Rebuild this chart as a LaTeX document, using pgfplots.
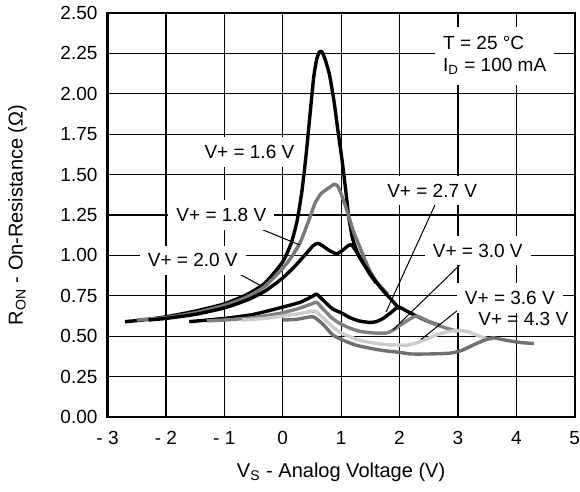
\documentclass[border=0pt]{standalone}
\usepackage{fontspec}
\setmainfont{Liberation Sans}
\usepackage{pgfplots}
\pgfplotsset{compat=1.18}
\usetikzlibrary{calc}

\definecolor{gA}{gray}{0.47}
\definecolor{gB}{gray}{0.50}
\definecolor{gC}{gray}{0.80}
\definecolor{gD}{gray}{0.44}

\tikzset{ann/.style={fill=white, inner xsep=4pt, inner ysep=4pt, font=\fontsize{9.5}{11}\selectfont}}

\begin{document}
\begin{tikzpicture}
\begin{axis}[
    scale only axis, width=233.6pt, height=202pt,
    xmin=-3, xmax=5, ymin=0, ymax=2.5,
    xtick={-3,-2,-1,0,1,2,3,4,5},
    xticklabels={- 3,- 2,- 1,0,1,2,3,4,5},
    ytick={0,0.25,0.5,0.75,1,1.25,1.5,1.75,2,2.25,2.5},
    yticklabels={0.00,0.25,0.50,0.75,1.00,1.25,1.50,1.75,2.00,2.25,2.50},
    grid=major, major grid style={black, line width=0.6pt},
    major tick length=0pt,
    axis line style={line width=1.1pt},
    tick label style={font=\fontsize{9.5}{11}\selectfont},
    yticklabel style={xshift=-1.5pt},
    xticklabel style={yshift=-3.5pt},
    xlabel={V\textsubscript{S} - Analog Voltage (V)},
    ylabel={R\textsubscript{ON} - On-Resistance (Ω)},
    label style={font=\fontsize{10}{12}\selectfont},
    xlabel style={at={(axis description cs:0.5,-0.136)}, anchor=center},
    ylabel style={at={(axis description cs:-0.193,0.5)}, anchor=center},
    every axis plot/.append style={line width=1.7pt, line join=round, smooth, tension=0.35},
]
% V+ = 1.6 V
\addplot[black] coordinates {
 (-2.7,0.59) (-2.4,0.60) (-2.0,0.62) (-1.5,0.655) (-1.0,0.70) (-0.6,0.76) (-0.3,0.83)
 (0.0,0.96) (0.15,1.08) (0.25,1.22) (0.33,1.40) (0.40,1.62) (0.47,1.88) (0.53,2.10)
 (0.58,2.21) (0.63,2.26) (0.67,2.26) (0.72,2.22) (0.8,2.12) (0.88,1.95) (0.95,1.76)
 (1.02,1.58) (1.08,1.40) (1.13,1.24) (1.2,1.10) (1.3,1.0) (1.4,0.94) (1.5,0.88) (1.6,0.83)
};
% V+ = 1.8 V
\addplot[gA] coordinates {
 (-2.5,0.60) (-2.0,0.615) (-1.5,0.645) (-1.0,0.69) (-0.6,0.745) (-0.3,0.81) (0.0,0.92)
 (0.15,0.99) (0.3,1.08) (0.45,1.22) (0.55,1.32) (0.65,1.38) (0.72,1.40) (0.8,1.42)
 (0.88,1.44) (0.94,1.43) (1.0,1.38) (1.08,1.30) (1.15,1.22) (1.22,1.14) (1.3,1.07)
 (1.4,0.98) (1.5,0.90) (1.6,0.84) (1.7,0.80) (1.8,0.76)
};
% V+ = 2.0 V
\addplot[black] coordinates {
 (-2.3,0.60) (-2.0,0.61) (-1.5,0.635) (-1.0,0.675) (-0.6,0.725) (-0.3,0.78) (0.0,0.86)
 (0.2,0.93) (0.4,1.01) (0.52,1.06) (0.6,1.075) (0.68,1.06) (0.8,1.03) (0.92,1.01)
 (1.02,1.03) (1.12,1.06) (1.18,1.065) (1.25,1.03) (1.32,0.99) (1.4,0.94) (1.55,0.86)
 (1.7,0.79) (1.85,0.73) (2.0,0.67)
};
% V+ = 2.7 V
\addplot[black] coordinates {
 (-1.6,0.59) (-1.0,0.61) (-0.5,0.635) (0.0,0.68) (0.3,0.71) (0.5,0.745) (0.58,0.76)
 (0.7,0.72) (0.85,0.67) (1.0,0.645) (1.15,0.615) (1.3,0.595) (1.49,0.585) (1.6,0.59)
 (1.72,0.61) (1.85,0.645) (1.95,0.675) (2.0,0.68) (2.1,0.66) (2.29,0.625) (2.5,0.59)
 (2.7,0.565)
};
% V+ = 3.0 V
\addplot[gB] coordinates {
 (-1.3,0.595) (-1.0,0.60) (-0.5,0.615) (0.0,0.645) (0.3,0.675) (0.5,0.70) (0.58,0.71)
 (0.7,0.665) (0.85,0.61) (1.0,0.575) (1.15,0.55) (1.32,0.53) (1.55,0.52) (1.78,0.52)
 (1.9,0.54) (2.0,0.565) (2.15,0.60) (2.29,0.625) (2.45,0.60) (2.6,0.575) (2.8,0.55)
 (3.0,0.53)
};
% V+ = 3.6 V
\addplot[gC] coordinates {
 (-0.7,0.60) (-0.3,0.61) (0.0,0.625) (0.3,0.64) (0.55,0.655) (0.7,0.61) (0.85,0.56)
 (1.0,0.52) (1.2,0.49) (1.38,0.47) (1.7,0.45) (2.0,0.445) (2.15,0.445) (2.3,0.46)
 (2.45,0.48) (2.65,0.51) (2.86,0.53) (3.0,0.535) (3.15,0.53) (3.3,0.51) (3.45,0.49)
 (3.6,0.48)
};
% V+ = 4.3 V
\addplot[gD] coordinates {
 (0.0,0.60) (0.25,0.605) (0.52,0.62) (0.7,0.57) (0.85,0.51) (1.0,0.48) (1.25,0.445)
 (1.5,0.425) (1.75,0.41) (2.0,0.40) (2.2,0.39) (2.5,0.39) (2.86,0.395) (3.05,0.41)
 (3.26,0.445) (3.45,0.475) (3.6,0.49) (3.75,0.48) (3.9,0.47) (4.1,0.46) (4.3,0.455)
};

% leader lines
\draw[line width=0.5pt] (axis cs:-0.42,1.17) -- (axis cs:0.29,1.065);
\draw[line width=0.5pt] (axis cs:-0.82,0.90) -- (axis cs:-0.36,0.81);
\draw[line width=0.5pt] (axis cs:2.63,1.33) -- (axis cs:1.77,0.65);
\draw[line width=0.5pt] (axis cs:3.06,0.95) -- (axis cs:1.89,0.54);
\draw[line width=0.5pt] (axis cs:3.03,0.67) -- (axis cs:2.37,0.48);

% labels
\node[ann] at (axis cs:-0.57,1.64) {V+ = 1.6 V};
\node[ann] at (axis cs:-1.05,1.25) {V+ = 1.8 V};
\node[ann] at (axis cs:-1.54,0.97) {V+ = 2.0 V};
\node[ann] at (axis cs:2.56,1.40) {V+ = 2.7 V};
\node[ann] at (axis cs:3.34,1.03) {V+ = 3.0 V};
\node[ann] at (axis cs:3.89,0.735) {V+ = 3.6 V};
\node[font=\fontsize{9.5}{11}\selectfont, inner sep=1pt] at (axis cs:4.12,0.605) {V+ = 4.3 V};
\node[ann, align=left, inner ysep=5pt] at (axis cs:3.63,2.235) {T = 25 °C\\I\textsubscript{D} = 100 mA};
\end{axis}
\pgfresetboundingbox
\path ($(current axis.south west)+(-53.75pt,-37pt)$) rectangle ($(current axis.north east)+(2.65pt,6.5pt)$);
\end{tikzpicture}
\end{document}
